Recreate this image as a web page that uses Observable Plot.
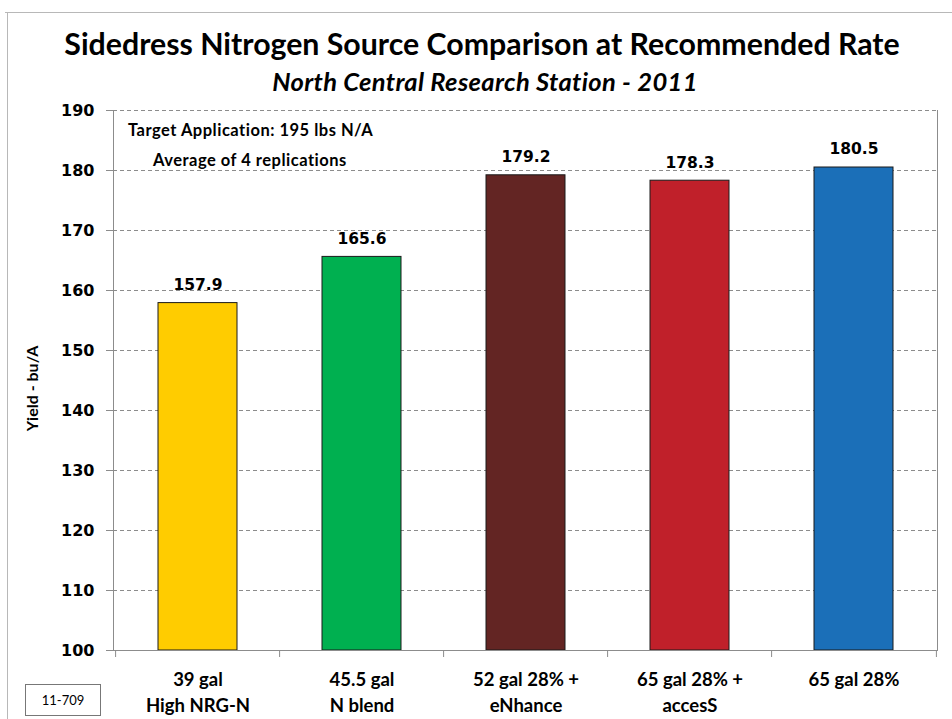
<!DOCTYPE html>
<html>
<head>
<meta charset="utf-8">
<script src="https://cdn.jsdelivr.net/npm/d3@7"></script>
<script src="https://cdn.jsdelivr.net/npm/@observablehq/plot@0.6"></script>
<style>
  html, body { margin: 0; padding: 0; background: #fff; }
  #wrap { position: relative; width: 952px; height: 719px; overflow: hidden; background: #fff; font-family: Lato, "DejaVu Sans", sans-serif; }
  #chart { position: absolute; left: 0; top: 0; }
  .abs { position: absolute; }
  #frameTop { left: 5px; top: 12px; width: 947px; height: 0; border-top: 1.5px solid #b8b8b8; }
  #frameLeft { left: 7px; top: 12px; width: 0; height: 707px; border-left: 1.5px solid #b8b8b8; }
  #title { left: 0; width: 964px; top: 25px; text-align: center; font-weight: 700; font-size: 30.3px; color: #000; white-space: nowrap; }
  #subtitle { left: 0; width: 970px; top: 66px; text-align: center; font-weight: 700; font-style: italic; font-size: 25.5px; letter-spacing: 0.35px; color: #000; white-space: nowrap; }
  .note { background: #fff; font-weight: 700; font-size: 16.5px; letter-spacing: 0.5px; color: #000; white-space: nowrap; padding: 0 10px; }
  #note1 { left: 118px; top: 120px; }
  #note2 { left: 143px; top: 150px; }
  #code { left: 25px; top: 684px; width: 74px; height: 30px; border: 1px solid #777; font-size: 13px; line-height: 30px; text-align: center; color: #000; }
</style>
</head>
<body>
<div id="wrap">
  <div id="chart"></div>
  <div class="abs" id="frameTop"></div>
  <div class="abs" id="frameLeft"></div>
  <div class="abs" id="title">Sidedress Nitrogen Source Comparison at Recommended Rate</div>
  <div class="abs" id="subtitle">North Central Research Station - 2011</div>
  <div class="abs note" id="note1">Target Application: 195 lbs N/A</div>
  <div class="abs note" id="note2">Average of 4 replications</div>
  <div class="abs" id="code">11-709</div>
</div>
<script>
const categories = ["39 gal\nHigh NRG-N", "45.5 gal\nN blend", "52 gal 28% +\neNhance", "65 gal 28% +\naccesS", "65 gal 28%"];
const yields = [157.9, 165.6, 179.2, 178.3, 180.5];
const barColors = ["#FFCC00", "#00B050", "#632523", "#C0202A", "#1B6FB8"];
const yTicks = [100, 110, 120, 130, 140, 150, 160, 170, 180, 190];
const yLabel = "Yield - bu/A";

const data = categories.map((c, i) => ({cat: c, y: yields[i], color: barColors[i]}));

const W = 952, H = 719, mL = 113, mR = 15, mT = 110, mB = 69;
const step = (W - mL - mR) / categories.length;
const yMin = yTicks[0], yMax = yTicks[yTicks.length - 1];
const grey = "#8c8c8c";

const chart = Plot.plot({
  width: W, height: H,
  marginLeft: mL, marginRight: mR, marginTop: mT, marginBottom: mB,
  style: {background: "transparent", overflow: "visible"},
  x: {domain: categories, paddingInner: 0.52, paddingOuter: 0.26, axis: null},
  y: {domain: [yMin, yMax], axis: null},
  marks: [
    Plot.gridY(yTicks.slice(1), {stroke: grey, strokeOpacity: 1, strokeDasharray: "4,3"}),
    Plot.barY(data, {x: "cat", y1: () => yMin, y2: "y", fill: "color", stroke: "#1a1a1a", strokeWidth: 1}),
    Plot.frame({anchor: "left", stroke: grey}),
    Plot.frame({anchor: "right", stroke: grey}),
    Plot.ruleY([yMin], {stroke: grey}),
    Plot.axisY(yTicks, {tickSize: 7, tickPadding: 12, stroke: grey, fill: "#000", fontSize: 16, fontWeight: "bold", fontFamily: "DejaVu Sans", label: null}),
    Plot.axisX(categories, {tickSize: 7, dx: -step / 2, stroke: grey, tickFormat: () => "", label: null}),
    Plot.axisX([categories[categories.length - 1]], {tickSize: 7, dx: step / 2, stroke: grey, tickFormat: () => "", label: null}),
    Plot.axisX(categories, {tickSize: 0, tickPadding: 16, fill: "#000", fontSize: 18.5, fontWeight: "bold", fontFamily: "Lato", lineHeight: 1.45, label: null}),
    Plot.text(data, {x: "cat", y: "y", text: d => d.y.toFixed(1), dy: -18, fill: "#000", fontSize: 15.5, fontWeight: "bold", fontFamily: "DejaVu Sans"}),
    Plot.text([yLabel], {frameAnchor: "left", textAnchor: "middle", rotate: -90, dx: -81, dy: 8, fill: "#000", fontSize: 16, fontWeight: "bold", fontFamily: "Lato"})
  ]
});
document.getElementById("chart").appendChild(chart);
</script>
</body>
</html>
